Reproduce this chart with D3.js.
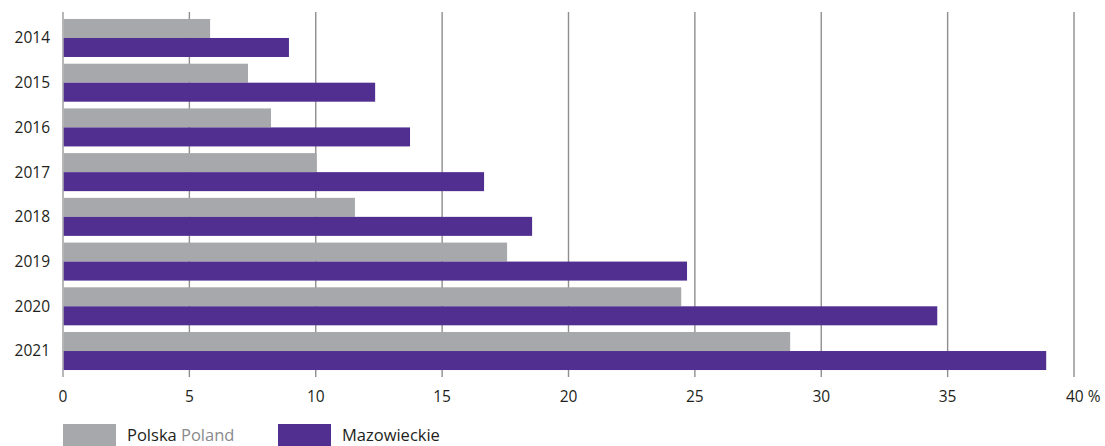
<!DOCTYPE html>
<html>
<head>
<meta charset="utf-8">
<script src="https://cdn.jsdelivr.net/npm/d3@7"></script>
<style>
  html, body { margin: 0; padding: 0; background: #fff; }
  svg { display: block; }
  text { font-family: "Open Sans", "Noto Sans", sans-serif; fill: #231F20; }
</style>
</head>
<body>
<svg id="chart" width="1105" height="446"></svg>
<script>
const years = ["2014","2015","2016","2017","2018","2019","2020","2021"];
const seriesNames = ["Polska", "Mazowieckie"];
const polska = [5.82, 7.32, 8.23, 10.04, 11.55, 17.57, 24.46, 28.77];
const mazowieckie = [8.94, 12.35, 13.73, 16.66, 18.56, 24.69, 34.59, 38.90];
const xTicks = [0, 5, 10, 15, 20, 25, 30, 35, 40];
const xTickLabels = ["0","5","10","15","20","25","30","35","40 %"];
const colors = ["#A7A8AB", "#512F90"];

const svg = d3.select("#chart");
const x = d3.scaleLinear().domain([0, 40]).range([63, 1074]);
const y = d3.scaleBand().domain(years).range([14.5, 374.5]).paddingInner(0.15).paddingOuter(0.1);
const ySub = d3.scaleBand().domain(seriesNames).range([0, y.bandwidth()]);

// gridlines
svg.append("g").selectAll("line").data(xTicks).join("line")
  .attr("x1", d => x(d)).attr("x2", d => x(d))
  .attr("y1", 12).attr("y2", 377)
  .attr("stroke", d => d === 0 ? "#9a9a9a" : "#8f8f8f")
  .attr("stroke-width", 1.4);

// bars
const data = years.map((yr, i) => ({year: yr, vals: [polska[i], mazowieckie[i]]}));
const groups = svg.append("g").selectAll("g").data(data).join("g")
  .attr("transform", d => `translate(0,${y(d.year)})`);
groups.selectAll("rect").data(d => d.vals.map((v, j) => ({v, s: seriesNames[j], j})))
  .join("rect")
  .attr("x", x(0) + 0.7)
  .attr("y", d => ySub(d.s))
  .attr("width", d => x(d.v) - x(0) - 0.7)
  .attr("height", ySub.bandwidth())
  .attr("fill", d => colors[d.j]);

// y labels
svg.append("g").selectAll("text").data(years).join("text")
  .attr("x", 50)
  .attr("y", d => y(d) + y.bandwidth() / 2)
  .attr("dy", "0.35em")
  .attr("text-anchor", "end")
  .attr("font-size", 15.5)
  .text(d => d);

// x labels
svg.append("g").selectAll("text").data(xTicks).join("text")
  .attr("x", (d, i) => i === xTicks.length - 1 ? x(d) - 8 : x(d))
  .attr("y", 397)
  .attr("dy", "0.35em")
  .attr("text-anchor", (d, i) => i === xTicks.length - 1 ? "start" : "middle")
  .attr("font-size", 15.5)
  .text((d, i) => xTickLabels[i]);

// legend
const legend = svg.append("g");
legend.append("rect").attr("x", 63).attr("y", 424).attr("width", 53).attr("height", 24).attr("fill", colors[0]);
const t1 = legend.append("text").attr("x", 127).attr("y", 441).attr("font-size", 16.5);
t1.append("tspan").text("Polska ");
t1.append("tspan").attr("fill", "#8a8a8c").style("fill", "#8a8a8c").text("Poland");
legend.append("rect").attr("x", 278).attr("y", 424).attr("width", 53).attr("height", 24).attr("fill", colors[1]);
legend.append("text").attr("x", 342).attr("y", 441).attr("font-size", 16.5).text("Mazowieckie");
</script>
</body>
</html>
